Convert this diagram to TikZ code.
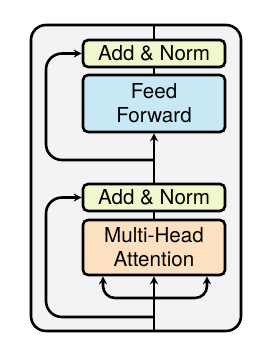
\documentclass[tikz,border=0pt]{standalone}
\usepackage{fontspec}
\setmainfont{TeX Gyre Heros}
\definecolor{NormGreen}{HTML}{F1F6CC}
\definecolor{FFBlue}{HTML}{C8E8F6}
\definecolor{AttnOrange}{HTML}{FCE0C0}
\definecolor{BlockGray}{HTML}{F3F3F6}
\usepackage{tikz}
\usetikzlibrary{arrows.meta, positioning, calc}

\begin{document}
\begin{tikzpicture}[x=0.5pt, y=0.5pt,
    sublayer/.style={draw, line width=1.3pt, rounded corners=2.5pt, minimum width=71pt,
      align=center, font=\fontsize{10.3}{12}\selectfont, inner sep=0pt},
    wire/.style={line width=1.3pt},
    arrow/.style={wire, -{Stealth[length=4pt, width=4pt]}}]
  \useasboundingbox (0,0) rectangle (266,350);
  % Encoder block background
  \draw[line width=1.3pt, fill=BlockGray, rounded corners=7.5pt] (31,19) rectangle (241,325);
  \coordinate (blocktop) at (154,325);
  \coordinate (blockbot) at (154,19);
  \coordinate (rail) at (46,0);
  % Sub-layers
  \node[sublayer, fill=NormGreen, minimum height=13.5pt] (addnormtop) at (154,296.5) {Add \& Norm};
  \node[sublayer, fill=FFBlue, minimum height=28.5pt] (ffwd) at (154,246.5) {Feed\\Forward};
  \node[sublayer, fill=NormGreen, minimum height=13.5pt] (addnormlow) at (154,152.5) {Add \& Norm};
  \node[sublayer, fill=AttnOrange, minimum height=27.5pt] (mha) at (154,102.5) {Multi-Head\\Attention};
  % Main path
  \draw[wire] (addnormtop) -- (blocktop);
  \draw[wire] (ffwd) -- (addnormtop);
  \draw[arrow] (addnormlow) -- (ffwd);
  \draw[wire] (mha) -- (addnormlow);
  \draw[arrow] (blockbot) -- (mha);
  % Residual connections
  \coordinate (res1) at (154,190);
  \coordinate (res2) at (154,33);
  \draw[arrow, rounded corners=8pt] (res1) -- (res1 -| rail) |- (addnormtop.west);
  \draw[arrow, rounded corners=8pt] (res2) -- (res2 -| rail) |- (addnormlow.west);
  % Query, key and value branches
  \coordinate (split) at (154,52);
  \draw[arrow, rounded corners=6pt] (split) -| ($(mha.south)+(-51,0)$);
  \draw[arrow, rounded corners=6pt] (split) -| ($(mha.south)+(53,0)$);
\end{tikzpicture}
\end{document}
